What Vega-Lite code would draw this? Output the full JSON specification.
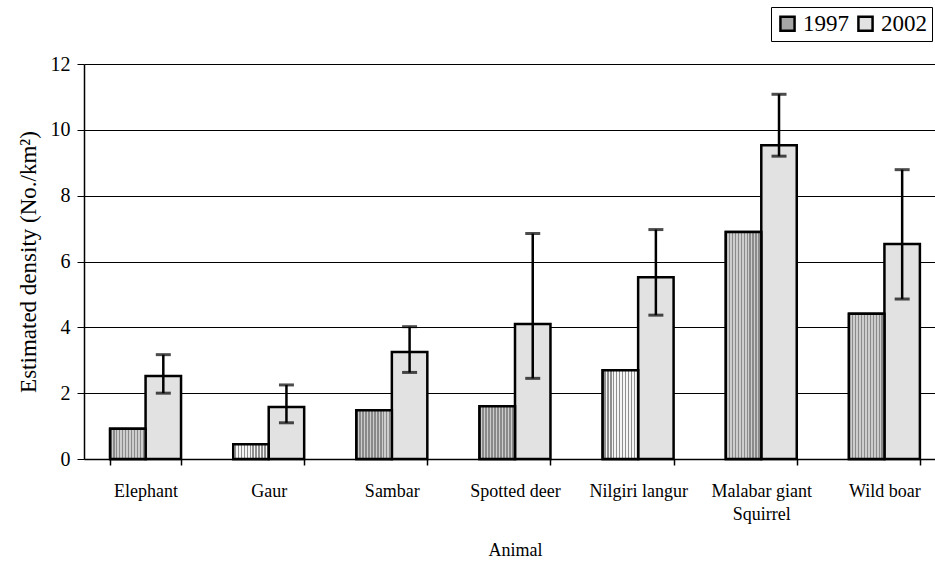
{
  "$schema": "https://vega.github.io/schema/vega-lite/v6.json",
  "autosize": {"type": "none"},
  "width": 851,
  "height": 395,
  "padding": {"left": 84, "top": 64, "right": 0, "bottom": 103},
  "background": "white",
  "config": {
    "font": "Liberation Serif",
    "view": {"stroke": null},
    "axis": {"labelFont": "Liberation Serif", "titleFont": "Liberation Serif", "labelColor": "black", "titleColor": "black", "titleFontWeight": "normal", "domainColor": "black", "tickColor": "black", "domainWidth": 1.5},
    "legend": {"labelFont": "Liberation Serif", "labelFontSize": 23, "labelColor": "black"}
  },
  "data": {"values": [
    {"animal": "Elephant", "year": "1997", "density": 0.92},
    {"animal": "Elephant", "year": "2002", "density": 2.52, "lo": 2.0, "hi": 3.17},
    {"animal": "Gaur", "year": "1997", "density": 0.45},
    {"animal": "Gaur", "year": "2002", "density": 1.58, "lo": 1.1, "hi": 2.25},
    {"animal": "Sambar", "year": "1997", "density": 1.48},
    {"animal": "Sambar", "year": "2002", "density": 3.25, "lo": 2.63, "hi": 4.02},
    {"animal": "Spotted deer", "year": "1997", "density": 1.6},
    {"animal": "Spotted deer", "year": "2002", "density": 4.1, "lo": 2.45, "hi": 6.85},
    {"animal": "Nilgiri langur", "year": "1997", "density": 2.7},
    {"animal": "Nilgiri langur", "year": "2002", "density": 5.52, "lo": 4.37, "hi": 6.97},
    {"animal": "Malabar giant Squirrel", "year": "1997", "density": 6.9},
    {"animal": "Malabar giant Squirrel", "year": "2002", "density": 9.53, "lo": 9.2, "hi": 11.08},
    {"animal": "Wild boar", "year": "1997", "density": 4.41},
    {"animal": "Wild boar", "year": "2002", "density": 6.53, "lo": 4.86, "hi": 8.79}
  ]},
  "encoding": {
    "x": {"field": "animal", "type": "nominal", "sort": null,
      "scale": {"paddingInner": 0.424, "paddingOuter": 0.212, "range": [0, 862]},
      "axis": {"title": "Animal", "titleFontSize": 18, "labelFontSize": 18, "labelAngle": 0, "labelPadding": 17, "ticks": true, "tickSize": 6, "tickWidth": 1.5, "tickBand": "extent", "titlePadding": 18,
        "labelExpr": "datum.label == 'Malabar giant Squirrel' ? ['Malabar giant', 'Squirrel'] : datum.label", "labelLineHeight": 23}},
    "xOffset": {"field": "year", "type": "nominal", "scale": {"paddingInner": 0, "paddingOuter": 0}}
  },
  "layer": [
    {
      "mark": {"type": "bar", "stroke": "black", "strokeWidth": 2.5},
      "encoding": {
        "y": {"field": "density", "type": "quantitative",
          "scale": {"domain": [0, 12]},
          "axis": {"title": "Estimated density (No./km²)", "titleFontSize": 23, "labelFontSize": 20, "values": [0, 2, 4, 6, 8, 10, 12], "grid": true, "gridColor": "black", "gridOpacity": 1, "tickSize": 7, "labelPadding": 7, "titlePadding": 10}},
        "fill": {"field": "year", "type": "nominal",
          "scale": {"domain": ["1997", "2002"], "range": ["#a6a6a6", "#e2e2e2"]},
          "legend": {"title": null, "orient": "none", "legendX": 687, "legendY": -57, "direction": "horizontal",
            "strokeColor": "black", "padding": 5, "symbolType": "square", "symbolSize": 200,
            "symbolStrokeColor": "black", "symbolStrokeWidth": 2.5, "columnPadding": 4, "labelOffset": 4, "fillColor": "white"}}
      }
    },
    {
      "transform": [{"filter": "datum.year == '1997'"}],
      "mark": {"type": "bar", "stroke": "black", "strokeWidth": 2.5},
      "encoding": {
        "y": {"field": "density", "type": "quantitative"},
        "fill": {
          "condition": {"test": "datum.animal == 'Gaur' || datum.animal == 'Nilgiri langur'",
            "value": {"gradient": "linear", "x1": 0, "x2": 1, "y1": 0, "y2": 0, "stops": [
              {"offset": 0, "color": "#f6f6f6"}, {"offset": 0.0417, "color": "#f6f6f6"}, {"offset": 0.0417, "color": "#8f8f8f"}, {"offset": 0.0833, "color": "#8f8f8f"},
              {"offset": 0.0833, "color": "#f6f6f6"}, {"offset": 0.125, "color": "#f6f6f6"}, {"offset": 0.125, "color": "#8f8f8f"}, {"offset": 0.1667, "color": "#8f8f8f"},
              {"offset": 0.1667, "color": "#f6f6f6"}, {"offset": 0.2083, "color": "#f6f6f6"}, {"offset": 0.2083, "color": "#8f8f8f"}, {"offset": 0.25, "color": "#8f8f8f"},
              {"offset": 0.25, "color": "#f6f6f6"}, {"offset": 0.2917, "color": "#f6f6f6"}, {"offset": 0.2917, "color": "#8f8f8f"}, {"offset": 0.3333, "color": "#8f8f8f"},
              {"offset": 0.3333, "color": "#f6f6f6"}, {"offset": 0.375, "color": "#f6f6f6"}, {"offset": 0.375, "color": "#8f8f8f"}, {"offset": 0.4167, "color": "#8f8f8f"},
              {"offset": 0.4167, "color": "#f6f6f6"}, {"offset": 0.4583, "color": "#f6f6f6"}, {"offset": 0.4583, "color": "#8f8f8f"}, {"offset": 0.5, "color": "#8f8f8f"},
              {"offset": 0.5, "color": "#f6f6f6"}, {"offset": 0.5417, "color": "#f6f6f6"}, {"offset": 0.5417, "color": "#8f8f8f"}, {"offset": 0.5833, "color": "#8f8f8f"},
              {"offset": 0.5833, "color": "#f6f6f6"}, {"offset": 0.625, "color": "#f6f6f6"}, {"offset": 0.625, "color": "#8f8f8f"}, {"offset": 0.6667, "color": "#8f8f8f"},
              {"offset": 0.6667, "color": "#f6f6f6"}, {"offset": 0.7083, "color": "#f6f6f6"}, {"offset": 0.7083, "color": "#8f8f8f"}, {"offset": 0.75, "color": "#8f8f8f"},
              {"offset": 0.75, "color": "#f6f6f6"}, {"offset": 0.7917, "color": "#f6f6f6"}, {"offset": 0.7917, "color": "#8f8f8f"}, {"offset": 0.8333, "color": "#8f8f8f"},
              {"offset": 0.8333, "color": "#f6f6f6"}, {"offset": 0.875, "color": "#f6f6f6"}, {"offset": 0.875, "color": "#8f8f8f"}, {"offset": 0.9167, "color": "#8f8f8f"},
              {"offset": 0.9167, "color": "#f6f6f6"}, {"offset": 0.9583, "color": "#f6f6f6"}, {"offset": 0.9583, "color": "#8f8f8f"}, {"offset": 1, "color": "#8f8f8f"}
            ]}},
          "value": {"gradient": "linear", "x1": 0, "x2": 1, "y1": 0, "y2": 0, "stops": [
              {"offset": 0, "color": "#8a8a8a"}, {"offset": 0.0417, "color": "#8a8a8a"}, {"offset": 0.0417, "color": "#cdcdcd"}, {"offset": 0.0833, "color": "#cdcdcd"},
              {"offset": 0.0833, "color": "#8a8a8a"}, {"offset": 0.125, "color": "#8a8a8a"}, {"offset": 0.125, "color": "#cdcdcd"}, {"offset": 0.1667, "color": "#cdcdcd"},
              {"offset": 0.1667, "color": "#8a8a8a"}, {"offset": 0.2083, "color": "#8a8a8a"}, {"offset": 0.2083, "color": "#cdcdcd"}, {"offset": 0.25, "color": "#cdcdcd"},
              {"offset": 0.25, "color": "#8a8a8a"}, {"offset": 0.2917, "color": "#8a8a8a"}, {"offset": 0.2917, "color": "#cdcdcd"}, {"offset": 0.3333, "color": "#cdcdcd"},
              {"offset": 0.3333, "color": "#8a8a8a"}, {"offset": 0.375, "color": "#8a8a8a"}, {"offset": 0.375, "color": "#cdcdcd"}, {"offset": 0.4167, "color": "#cdcdcd"},
              {"offset": 0.4167, "color": "#8a8a8a"}, {"offset": 0.4583, "color": "#8a8a8a"}, {"offset": 0.4583, "color": "#cdcdcd"}, {"offset": 0.5, "color": "#cdcdcd"},
              {"offset": 0.5, "color": "#8a8a8a"}, {"offset": 0.5417, "color": "#8a8a8a"}, {"offset": 0.5417, "color": "#cdcdcd"}, {"offset": 0.5833, "color": "#cdcdcd"},
              {"offset": 0.5833, "color": "#8a8a8a"}, {"offset": 0.625, "color": "#8a8a8a"}, {"offset": 0.625, "color": "#cdcdcd"}, {"offset": 0.6667, "color": "#cdcdcd"},
              {"offset": 0.6667, "color": "#8a8a8a"}, {"offset": 0.7083, "color": "#8a8a8a"}, {"offset": 0.7083, "color": "#cdcdcd"}, {"offset": 0.75, "color": "#cdcdcd"},
              {"offset": 0.75, "color": "#8a8a8a"}, {"offset": 0.7917, "color": "#8a8a8a"}, {"offset": 0.7917, "color": "#cdcdcd"}, {"offset": 0.8333, "color": "#cdcdcd"},
              {"offset": 0.8333, "color": "#8a8a8a"}, {"offset": 0.875, "color": "#8a8a8a"}, {"offset": 0.875, "color": "#cdcdcd"}, {"offset": 0.9167, "color": "#cdcdcd"},
              {"offset": 0.9167, "color": "#8a8a8a"}, {"offset": 0.9583, "color": "#8a8a8a"}, {"offset": 0.9583, "color": "#cdcdcd"}, {"offset": 1, "color": "#cdcdcd"}
          ]}
        }
      }
    },
    {
      "transform": [{"filter": "datum.hi != null"}],
      "mark": {"type": "rule", "color": "black", "strokeWidth": 2.5},
      "encoding": {"y": {"field": "lo", "type": "quantitative"}, "y2": {"field": "hi"}}
    },
    {
      "transform": [{"filter": "datum.hi != null"}],
      "mark": {"type": "tick", "color": "black", "thickness": 3, "size": 15, "orient": "horizontal"},
      "encoding": {"y": {"field": "lo", "type": "quantitative"}}
    },
    {
      "transform": [{"filter": "datum.hi != null"}],
      "mark": {"type": "tick", "color": "black", "thickness": 3, "size": 15, "orient": "horizontal"},
      "encoding": {"y": {"field": "hi", "type": "quantitative"}}
    }
  ]
}
